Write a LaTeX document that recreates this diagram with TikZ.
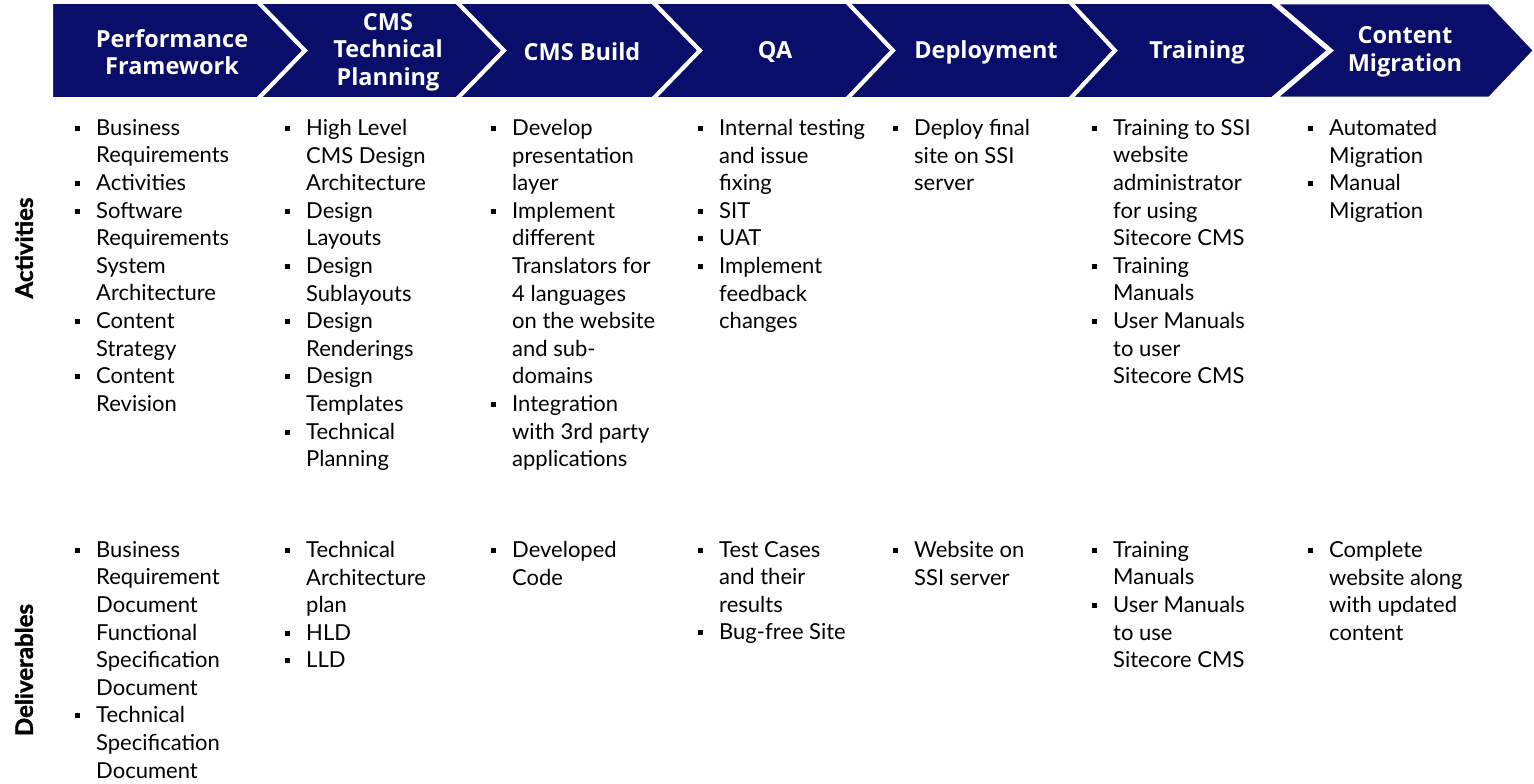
\documentclass[tikz,border=0pt]{standalone}
\usepackage{fontspec}
\setmainfont{Lato}
\newfontfamily\headfont{Open Sans}
\newfontfamily\lblfont{Lato}[BoldFeatures={FakeBold=1.5}]
\definecolor{navy}{RGB}{8,14,105}
\newcommand{\bul}{\makebox[21pt][l]{\rule[4.5pt]{4.5pt}{5pt}}}
\newcommand{\ind}{\hspace*{21pt}}

\begin{document}
\begin{tikzpicture}[x=1pt,y=-1pt,
  chevron/.style={fill=navy,draw=white,line width=4pt,line join=miter},
  hdr/.style={text=white,align=center,inner sep=0pt,font=\headfont\bfseries\fontsize{23.5}{27.5}\selectfont},
  cell/.style={anchor=north west,inner sep=0pt,align=left,font=\fontsize{22}{27.6}\selectfont},
  lbl/.style={rotate=90,inner sep=0pt,font=\lblfont\bfseries\fontsize{24}{27}\selectfont}]

\useasboundingbox[fill=white] (0,0) rectangle (1534,784);

% Faixa de etapas (setas)
\draw[chevron] (51,2) -- (258,2) -- (305,50.5) -- (258,99) -- (51,99) -- cycle;
\draw[chevron] (258,2) -- (457,2) -- (504,50.5) -- (457,99) -- (258,99) -- (305,50.5) -- cycle;
\draw[chevron] (457,2) -- (653,2) -- (700,50.5) -- (653,99) -- (457,99) -- (504,50.5) -- cycle;
\draw[chevron] (653,2) -- (847,2) -- (893,50.5) -- (847,99) -- (653,99) -- (700,50.5) -- cycle;
\draw[chevron] (847,2) -- (1070,2) -- (1115,50.5) -- (1070,99) -- (847,99) -- (893,50.5) -- cycle;
\draw[chevron] (1070,2) -- (1273,2) -- (1330,50.5) -- (1273,99) -- (1070,99) -- (1115,50.5) -- cycle;
\draw[chevron,line width=5pt] (1273,2) -- (1490,2) -- (1536,50.5) -- (1490,99) -- (1273,99) -- (1330,50.5) -- cycle;

% Titulos das etapas
\node[hdr] (hPerf) at (172,52) {Performance\\Framework};
\node[hdr] (hPlan) at (388,52) {CMS\\Technical\\Planning};
\node[hdr] (hBuild) at (582,52) {CMS Build};
\node[hdr] (hQA) at (775,52) {QA};
\node[hdr] (hDeploy) at (986,52) {Deployment};
\node[hdr] (hTrain) at (1197,52) {Training};
\node[hdr] (hMigr) at (1405,52) {Content\\Migration};

% Rotulos das linhas
\node[lbl] (lblAct) at (24,248) {Activities};
\node[lbl] (lblDel) at (24,670) {Deliverables};

% Atividades
\node[cell] (act1) at (75,119) {\bul Business\\ \ind Requirements\\ \bul Activities\\ \bul Software\\ \ind Requirements\\ \ind System\\ \ind Architecture\\ \bul Content\\ \ind Strategy\\ \bul Content\\ \ind Revision};
\node[cell] (act2) at (285,119) {\bul High Level\\ \ind CMS Design\\ \ind Architecture\\ \bul Design\\ \ind Layouts\\ \bul Design\\ \ind Sublayouts\\ \bul Design\\ \ind Renderings\\ \bul Design\\ \ind Templates\\ \bul Technical\\ \ind Planning};
\node[cell] (act3) at (491,119) {\bul Develop\\ \ind presentation\\ \ind layer\\ \bul Implement\\ \ind different\\ \ind Translators for\\ \ind 4 languages\\ \ind on the website\\ \ind and sub-\\ \ind domains\\ \bul Integration\\ \ind with 3rd party\\ \ind applications};
\node[cell] (act4) at (698,119) {\bul Internal testing\\ \ind and issue\\ \ind fixing\\ \bul SIT\\ \bul UAT\\ \bul Implement\\ \ind feedback\\ \ind changes};
\node[cell] (act5) at (893,119) {\bul Deploy final\\ \ind site on SSI\\ \ind server};
\node[cell] (act6) at (1092,119) {\bul Training to SSI\\ \ind website\\ \ind administrator\\ \ind for using\\ \ind Sitecore CMS\\ \bul Training\\ \ind Manuals\\ \bul User Manuals\\ \ind to user\\ \ind Sitecore CMS};
\node[cell] (act7) at (1308,119) {\bul Automated\\ \ind Migration\\ \bul Manual\\ \ind Migration};

% Entregaveis
\node[cell] (del1) at (75,541) {\bul Business\\ \ind Requirement\\ \ind Document\\ \ind Functional\\ \ind Specification\\ \ind Document\\ \bul Technical\\ \ind Specification\\ \ind Document};
\node[cell] (del2) at (285,541) {\bul Technical\\ \ind Architecture\\ \ind plan\\ \bul HLD\\ \bul LLD};
\node[cell] (del3) at (491,541) {\bul Developed\\ \ind Code};
\node[cell] (del4) at (698,541) {\bul Test Cases\\ \ind and their\\ \ind results\\ \bul Bug-free Site};
\node[cell] (del5) at (893,541) {\bul Website on\\ \ind SSI server};
\node[cell] (del6) at (1092,541) {\bul Training\\ \ind Manuals\\ \bul User Manuals\\ \ind to use\\ \ind Sitecore CMS};
\node[cell] (del7) at (1308,541) {\bul Complete\\ \ind website along\\ \ind with updated\\ \ind content};

\end{tikzpicture}
\end{document}
